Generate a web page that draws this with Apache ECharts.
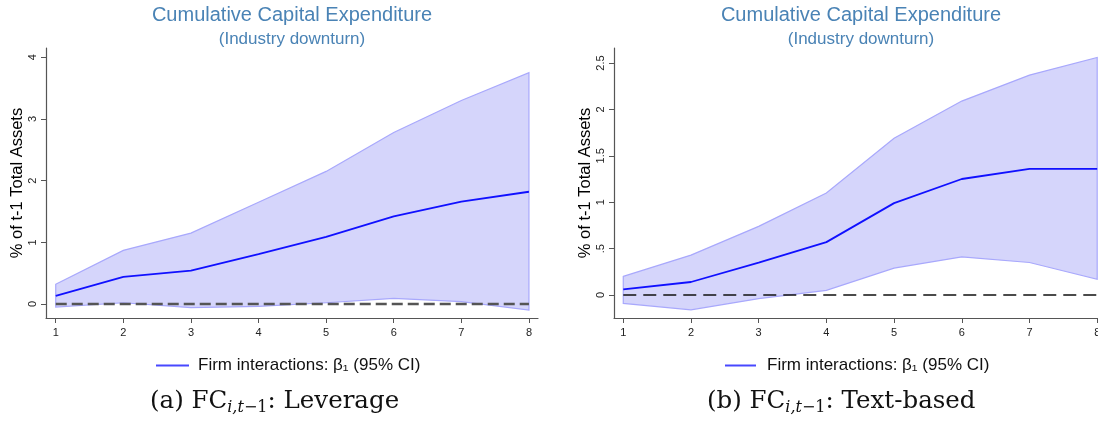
<!DOCTYPE html>
<html>
<head>
<meta charset="utf-8">
<script src="https://cdn.jsdelivr.net/npm/echarts@6/dist/echarts.min.js"></script>
<style>
html,body{margin:0;padding:0;background:#fff;}
#chart{width:1098px;height:430px;}
</style>
</head>
<body>
<div id="chart"></div>
<script>
// ---- data ----
const steps = [1, 2, 3, 4, 5, 6, 7, 8];
const levMean  = [0.13, 0.44, 0.54, 0.81, 1.09, 1.42, 1.66, 1.82];
const levUpper = [0.32, 0.87, 1.15, 1.65, 2.15, 2.78, 3.30, 3.75];
const levLower = [-0.05, 0.02, -0.06, -0.04, 0.02, 0.09, 0.04, -0.10];
const txtMean  = [0.06, 0.14, 0.35, 0.57, 0.99, 1.25, 1.36, 1.36];
const txtUpper = [0.20, 0.43, 0.74, 1.10, 1.69, 2.09, 2.37, 2.56];
const txtLower = [-0.09, -0.16, -0.04, 0.05, 0.29, 0.41, 0.35, 0.17];
const zeroLine = [0, 0, 0, 0, 0, 0, 0, 0];
const levTicks = [0, 1, 2, 3, 4];
const txtTicks = [0, 0.5, 1, 1.5, 2, 2.5];
const titleText = 'Cumulative Capital Expenditure';
const subtitleText = '(Industry downturn)';
const yName = '% of t-1 Total Assets';
const seriesName = 'Firm interactions: \u03b2\u2081 (95% CI)';

const chart = echarts.init(document.getElementById('chart'), null, {renderer: 'canvas'});

const AXIS_COLOR = '#555';
const FILL = '#d5d5fb';
const EDGE = '#a8a8fc';
const MEAN = '#1010ff';
const SANS = 'Arial, "Liberation Sans", sans-serif';

function band(lower, upper, gi) {
  return {
    type: 'custom',
    xAxisIndex: gi, yAxisIndex: gi,
    silent: true,
    clip: false,
    z: 1,
    data: steps.map((s, i) => [s, lower[i], upper[i]]),
    encode: {x: 0, y: [1, 2]},
    renderItem: function (params, api) {
      if (params.dataIndex !== 0) return null;
      const pts = [];
      for (let i = 0; i < steps.length; i++) pts.push(api.coord([steps[i], upper[i]]));
      for (let i = steps.length - 1; i >= 0; i--) pts.push(api.coord([steps[i], lower[i]]));
      return {
        type: 'polygon',
        shape: {points: pts},
        style: {fill: FILL, stroke: EDGE, lineWidth: 1.2}
      };
    }
  };
}

function xAxis(gi, min, max) {
  return {
    type: 'value', gridIndex: gi, min: min, max: max,
    axisLine: {show: true, onZero: false, lineStyle: {color: AXIS_COLOR, width: 1.2}},
    axisTick: {show: true, length: 5, customValues: steps, lineStyle: {color: AXIS_COLOR}},
    axisLabel: {show: true, customValues: steps, margin: 9, color: '#222',
      fontFamily: '"Liberation Sans Narrow", "Liberation Sans", Arial, sans-serif', fontSize: 11},
    splitLine: {show: false}
  };
}

function yAxis(gi, min, max, ticks, fmt) {
  return {
    type: 'value', gridIndex: gi, min: min, max: max,
    name: yName, nameLocation: 'middle', nameGap: 20,
    nameTextStyle: {color: '#000', fontFamily: SANS, fontSize: 16.5},
    axisLine: {show: true, onZero: false, lineStyle: {color: AXIS_COLOR, width: 1.2}},
    axisTick: {show: true, length: 5, customValues: ticks, lineStyle: {color: AXIS_COLOR}},
    axisLabel: {show: true, customValues: ticks, rotate: 90, margin: 8, color: '#222',
      fontFamily: SANS, fontSize: 11, formatter: fmt},
    splitLine: {show: false}
  };
}

const stataFmt = v => {
  if (v === 0) return '0';
  const s = String(v);
  return s.startsWith('0.') ? s.slice(1) : s;
};

function caption(left, label) {
  return {type: 'text', left: left, top: 389, silent: true,
    style: {
      text: '{a|' + label + ' FC}{s|i,t}{n|\u22121}{a|: ' + (label === '(a)' ? 'Leverage' : 'Text-based') + '}',
      rich: {
        a: {fontFamily: '"DejaVu Serif", serif', fontSize: 24.5, lineHeight: 28, fill: '#111', verticalAlign: 'middle'},
        s: {fontFamily: '"DejaVu Serif", serif', fontSize: 16, fontStyle: 'italic', lineHeight: 12, fill: '#111', verticalAlign: 'bottom'},
        n: {fontFamily: '"DejaVu Serif", serif', fontSize: 16, lineHeight: 12, fill: '#111', verticalAlign: 'bottom'}
      }
    }};
}

const option = {
  animation: false,
  backgroundColor: '#fff',
  title: [
    {text: titleText, subtext: subtitleText, left: 292, top: 5, padding: 0, textAlign: 'center', itemGap: 6,
      textStyle: {color: '#4a83b5', fontWeight: 'normal', fontSize: 20, fontFamily: SANS},
      subtextStyle: {color: '#4a83b5', fontSize: 17, fontFamily: SANS}},
    {text: titleText, subtext: subtitleText, left: 861, top: 5, padding: 0, textAlign: 'center', itemGap: 6,
      textStyle: {color: '#4a83b5', fontWeight: 'normal', fontSize: 20, fontFamily: SANS},
      subtextStyle: {color: '#4a83b5', fontSize: 17, fontFamily: SANS}}
  ],
  legend: [
    {left: 156, top: 357, padding: 0, itemWidth: 33, itemHeight: 2, icon: 'rect', itemGap: 0,
      data: [seriesName], selectedMode: false,
      itemStyle: {color: '#4848ff'},
      textStyle: {color: '#111', fontSize: 17, fontFamily: SANS, padding: [0, 0, 0, 4]}},
    {left: 725, top: 357, padding: 0, itemWidth: 31, itemHeight: 2, icon: 'rect', itemGap: 0,
      data: [seriesName], selectedMode: false,
      itemStyle: {color: '#4848ff'},
      textStyle: {color: '#111', fontSize: 17, fontFamily: SANS, padding: [0, 0, 0, 6]}}
  ],
  grid: [
    {left: 46, top: 48, width: 492, height: 270, outerBoundsMode: 'none', containLabel: false},
    {left: 614, top: 48, width: 484, height: 270, outerBoundsMode: 'none', containLabel: false}
  ],
  xAxis: [xAxis(0, 0.856, 8.134), xAxis(1, 0.863, 8.012)],
  yAxis: [yAxis(0, -0.227, 4.151, levTicks, stataFmt), yAxis(1, -0.248, 2.662, txtTicks, stataFmt)],
  series: [
    band(levLower, levUpper, 0),
    {type: 'line', xAxisIndex: 0, yAxisIndex: 0, data: steps.map((s, i) => [s, zeroLine[i]]),
      symbol: 'none', silent: true, z: 2,
      lineStyle: {color: '#555', width: 2.5, type: [11, 5]}},
    {name: seriesName, type: 'line', xAxisIndex: 0, yAxisIndex: 0, data: steps.map((s, i) => [s, levMean[i]]),
      symbol: 'none', z: 3, lineStyle: {color: MEAN, width: 1.8}, itemStyle: {color: MEAN}},
    band(txtLower, txtUpper, 1),
    {type: 'line', xAxisIndex: 1, yAxisIndex: 1, data: steps.map((s, i) => [s, zeroLine[i]]),
      symbol: 'none', silent: true, z: 2,
      lineStyle: {color: '#111', width: 1.6, type: [13, 7]}},
    {name: seriesName, type: 'line', xAxisIndex: 1, yAxisIndex: 1, data: steps.map((s, i) => [s, txtMean[i]]),
      symbol: 'none', z: 3, lineStyle: {color: MEAN, width: 1.8}, itemStyle: {color: MEAN}}
  ],
  graphic: [caption(150, '(a)'), caption(707, '(b)')]
};

chart.setOption(option);
</script>
</body>
</html>
